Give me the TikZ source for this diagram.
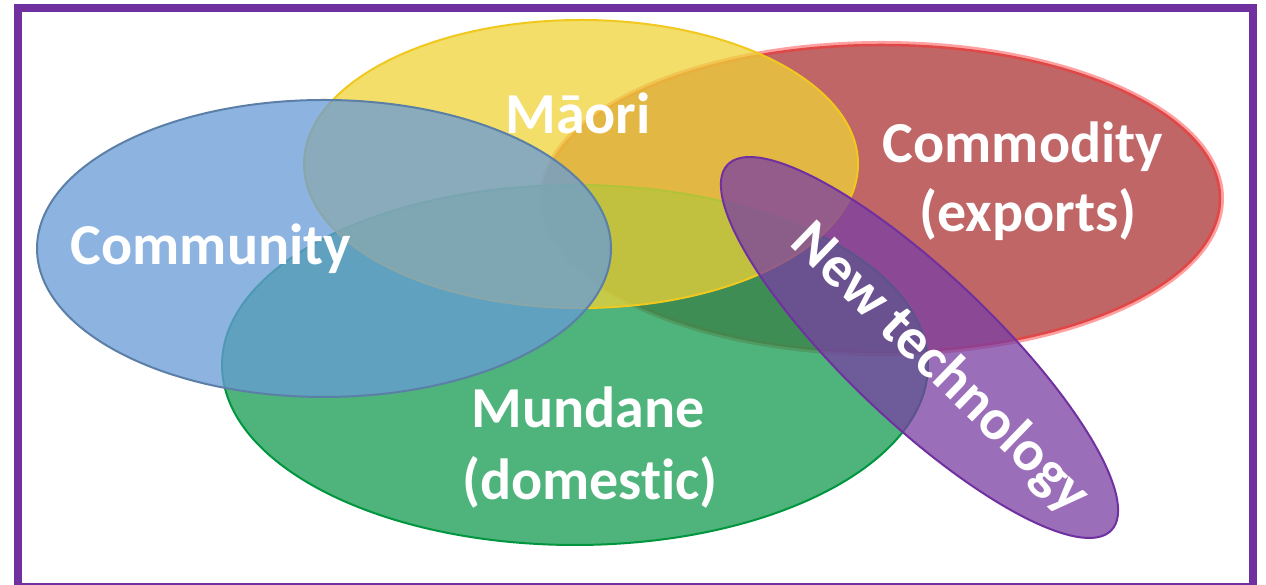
\documentclass[tikz,border=0pt]{standalone}
\usepackage{fontspec}
\setmainfont{Carlito}[Ligatures=NoCommon]
\definecolor{frameC}{HTML}{7030A0}
\definecolor{blueF}{RGB}{103,155,216}
\definecolor{blueD}{HTML}{5B7FA6}
\definecolor{yelF}{RGB}{238,211,56}
\definecolor{yelD}{HTML}{F0C81E}
\definecolor{redF}{RGB}{171,51,51}
\definecolor{redD}{HTML}{E04848}
\definecolor{redG}{HTML}{FFA0A0}
\definecolor{grnF}{RGB}{19,155,80}
\definecolor{grnD}{HTML}{00963F}
\definecolor{purF}{RGB}{122,62,164}
\definecolor{purD}{HTML}{7030A0}
\begin{document}
\begin{tikzpicture}[x=1pt,y=1pt,
  setfill/.style={fill opacity=0.75},
  lbl/.style={text=white,font=\bfseries\fontsize{58}{70}\selectfont,inner sep=0pt}]
\useasboundingbox (0,0) rectangle (1266,585);
\fill[white] (0,0) rectangle (1266,585);
\draw[frameC,line width=8] (17.5,-2) rectangle (1252.5,577);
% Commodity (red)
\draw[redG,line width=4] (881.5,386.5) ellipse [x radius=340.5,y radius=155.5];
\draw[redD,line width=2.5,fill=redF,setfill] (881.5,386.5) ellipse [x radius=338.5,y radius=153.5];
% Mundane (green)
\draw[grnD,line width=2,fill=grnF,setfill] (575,220) ellipse [x radius=353,y radius=180];
% Maori (yellow)
\draw[yelD,line width=2,fill=yelF,setfill] (581,421) ellipse [x radius=277,y radius=144];
% Community (blue)
\draw[blueD,line width=2,fill=blueF,setfill] (324,336.5) ellipse [x radius=287,y radius=148.5];
% New technology (purple)
\draw[purD,line width=2,fill=purF,setfill,rotate around={-43.6:(919.5,237.5)}] (919.5,237.5) ellipse [x radius=265,y radius=74];
% labels
\node[lbl,anchor=base] (maori) at (578,451) {Māori};
\node[lbl,anchor=base] (commodity) at (1023,422) {Commodity};
\node[lbl,anchor=base] (exports) at (1028,353) {(exports)};
\node[lbl,anchor=base] (community) at (211,320) {Community};
\node[lbl,anchor=base] (mundane) at (588,157) {Mundane};
\node[lbl,anchor=base] (domestic) at (590,85) {(domestic)};
\node[lbl,rotate=-44] (newtech) at (940,216) {New technology};
\end{tikzpicture}
\end{document}
